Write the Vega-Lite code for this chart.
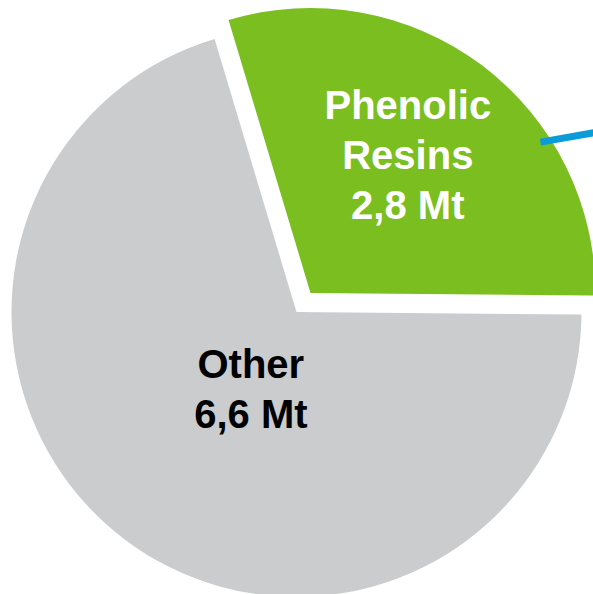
{
  "$schema": "https://vega.github.io/schema/vega-lite/v6.json",
  "width": 593,
  "height": 624,
  "padding": 0,
  "autosize": {"type": "none"},
  "background": "white",
  "config": {"view": {"stroke": null}, "text": {"lineBreak": "\n"}},
  "datasets": {
    "slices": [
      {"category": "Other", "value": 6.6, "label": "Other\n6,6 Mt"},
      {"category": "Phenolic Resins", "value": 2.8, "label": "Phenolic\nResins\n2,8 Mt"}
    ],
    "leader": [
      {"x": 0.856, "y": 0.596, "x2": 1.1, "y2": 0.639}
    ]
  },
  "layer": [
    {
      "data": {"name": "slices"},
      "mark": {"type": "arc", "radius": 285},
      "encoding": {
        "theta": {"field": "value", "type": "quantitative", "stack": true, "scale": {"range": [1.58, 7.8632]}},
        "color": {"field": "category", "type": "nominal", "scale": {"domain": ["Other", "Phenolic Resins"], "range": ["#cbcccd", "#7abe20"]}, "legend": null},
        "opacity": {"condition": {"test": "datum.category === 'Other'", "value": 1}, "value": 0}
      }
    },
    {
      "data": {"name": "slices"},
      "mark": {"type": "arc", "radius": 285, "xOffset": 14, "yOffset": -19},
      "encoding": {
        "theta": {"field": "value", "type": "quantitative", "stack": true},
        "color": {"field": "category", "type": "nominal", "legend": null},
        "opacity": {"condition": {"test": "datum.category === 'Phenolic Resins'", "value": 1}, "value": 0}
      }
    },
    {
      "data": {"name": "slices"},
      "mark": {"type": "text", "radius": 91, "dx": 9, "dy": -19, "font": "Liberation Sans", "fontWeight": "bold", "fontSize": 40, "lineHeight": 50, "align": "center", "baseline": "middle", "color": "#000000"},
      "encoding": {
        "theta": {"field": "value", "type": "quantitative", "stack": true},
        "text": {"field": "label"},
        "order": {"field": "category"},
        "opacity": {"condition": {"test": "datum.category === 'Other'", "value": 1}, "value": 0}
      }
    },
    {
      "data": {"name": "slices"},
      "mark": {"type": "text", "radius": 167, "xOffset": 14, "yOffset": -19, "dx": -3, "dy": -52, "font": "Liberation Sans", "fontWeight": "bold", "fontSize": 40, "lineHeight": 50, "align": "center", "baseline": "middle", "color": "#ffffff"},
      "encoding": {
        "theta": {"field": "value", "type": "quantitative", "stack": true},
        "text": {"field": "label"},
        "order": {"field": "category"},
        "opacity": {"condition": {"test": "datum.category === 'Phenolic Resins'", "value": 1}, "value": 0}
      }
    },
    {
      "data": {"name": "leader"},
      "mark": {"type": "rule", "color": "#0a9bd9", "strokeWidth": 7},
      "encoding": {
        "x": {"field": "x", "type": "quantitative", "scale": {"domain": [-1.0404, 1.0404], "nice": false, "zero": false}, "axis": null},
        "y": {"field": "y", "type": "quantitative", "scale": {"domain": [-1.0947, 1.0947], "nice": false, "zero": false}, "axis": null},
        "x2": {"field": "x2"},
        "y2": {"field": "y2"}
      }
    }
  ]
}
